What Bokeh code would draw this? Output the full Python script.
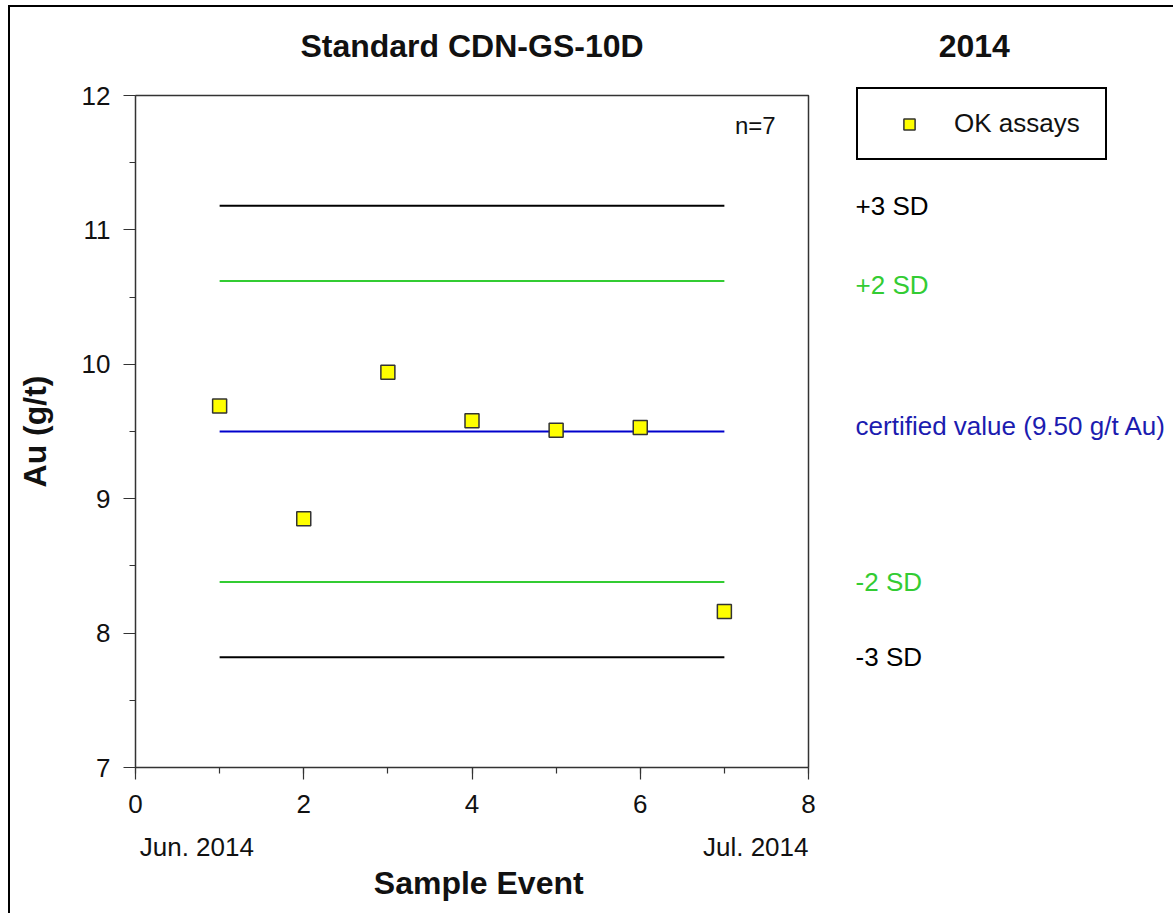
import math
from bokeh.plotting import figure
from bokeh.models import (Label, Legend, LegendItem,
                          SingleIntervalTicker, Range1d)
from bokeh.embed import file_html
from bokeh.resources import INLINE

# ---------------- data ----------------
sample_event = [1, 2, 3, 4, 5, 6, 7]
au_gpt = [9.69, 8.85, 9.94, 9.58, 9.51, 9.53, 8.16]

limit_values = [11.18, 10.62, 9.50, 8.38, 7.82]
limit_labels = ["+3 SD", "+2 SD", "certified value (9.50 g/t Au)", "-2 SD", "-3 SD"]

period_labels = ["Jun. 2014", "Jul. 2014"]
title_text = "Standard CDN-GS-10D"
year_text = "2014"
count_text = "n=7"
legend_label = "OK assays"
x_title = "Sample Event"
y_title = "Au (g/t)"

# ---------------- layout / styles ----------------
limit_line_colors = ["#000000", "#33cc33", "#0000cc", "#33cc33", "#000000"]
limit_text_colors = ["#000000", "#33cc33", "#1c1cb0", "#33cc33", "#000000"]
limit_text_offsets = [0, -4, 6, 0, 0]
FONT = "Liberation Sans"
REG = "26px"
BOLD = "32px"
W, H = 1173, 913
FL, FR, FT, FB = 135, 808, 95, 767          # pixel box of the axes area
X0, X1, Y0, Y1 = 0, 8, 7, 12                 # axes extents
px_per_x = (FR - FL) / (X1 - X0)
px_per_y = (FB - FT) / (Y1 - Y0)
x_start = X0 - FL / px_per_x
x_end = X0 + (W - FL) / px_per_x
y_start = Y0 - (H - FB) / px_per_y
y_end = Y0 + FB / px_per_y

p = figure(width=W, height=H, x_range=Range1d(x_start, x_end),
           y_range=Range1d(y_start, y_end),
           output_backend="svg", toolbar_location=None, min_border=0)
p.background_fill_alpha = 0
p.border_fill_alpha = 0
p.outline_line_color = None
p.styles = {
    "background": "linear-gradient(#000, #000) 8px 5px / 2px 3000px no-repeat, "
                  "linear-gradient(#000, #000) 8px 5px / 3000px 2px no-repeat, #ffffff"
}
p.xgrid.visible = False
p.ygrid.visible = False

p.xaxis.ticker = SingleIntervalTicker(interval=2, num_minor_ticks=2)
p.yaxis.ticker = SingleIntervalTicker(interval=1, num_minor_ticks=2)
p.xaxis.bounds = (X0, X1)
p.yaxis.bounds = (Y0, Y1)
p.xaxis.fixed_location = Y0
p.yaxis.fixed_location = X0
for ax in (p.xaxis, p.yaxis):
    ax.axis_line_color = "#333333"
    ax.axis_line_width = 1.5
    ax.major_tick_line_color = "#333333"
    ax.minor_tick_line_color = "#333333"
    ax.major_tick_line_width = 1.2
    ax.minor_tick_line_width = 1.2
    ax.major_tick_in = 0
    ax.major_tick_out = 12
    ax.minor_tick_in = 0
    ax.minor_tick_out = 6
    ax.major_label_text_font = FONT
    ax.major_label_text_font_size = REG
    ax.major_label_text_color = "#111111"
p.xaxis.major_label_standoff = 15
p.yaxis.major_label_standoff = 13

# plot box (top and right edges)
p.line(x=[X0, X1, X1], y=[Y1, Y1, Y0], line_color="#333333", line_width=1.5)

# control limit lines
x_span = [sample_event[0], sample_event[-1]]
for v, c in zip(limit_values, limit_line_colors):
    p.line(x=x_span, y=[v, v], line_color=c, line_width=2)

# assays
r = p.scatter(sample_event, au_gpt, marker="square", size=14,
              fill_color="#ffff00", line_color="#333333", line_width=1.5)

legend = Legend(items=[LegendItem(label=legend_label, renderers=[r])],
                location=(FL + 721, H - 160), orientation="vertical",
                border_line_color="#000000", border_line_width=2,
                border_line_alpha=1,
                background_fill_color="white", background_fill_alpha=1,
                padding=19, margin=0, spacing=0,
                glyph_width=64, glyph_height=28, label_standoff=13,
                label_width=132, label_height=28,
                label_text_font=FONT, label_text_font_size=REG,
                label_text_color="#111111")
p.add_layout(legend)

# limit labels on the right
for v, t, c, off in zip(limit_values, limit_labels, limit_text_colors, limit_text_offsets):
    p.add_layout(Label(x=8.56, y=v, text=t, text_font=FONT, text_font_size=REG,
                       text_color=c, text_baseline="middle", text_align="left",
                       y_offset=off))

# titles
p.add_layout(Label(x=4, y=12.372, text=title_text, text_font=FONT,
                   text_font_size=BOLD, text_font_style="bold",
                   text_color="#111111", text_align="center",
                   text_baseline="alphabetic"))
p.add_layout(Label(x=9.97, y=12.372, text=year_text, text_font=FONT,
                   text_font_size=BOLD, text_font_style="bold",
                   text_color="#111111", text_align="center",
                   text_baseline="alphabetic"))
p.add_layout(Label(x=7.61, y=11.775, text=count_text, text_font=FONT,
                   text_font_size="24px", text_color="#111111",
                   text_align="right", text_baseline="middle"))

# axis titles
p.add_layout(Label(x=4.08, y=6.144, text=x_title, text_font=FONT,
                   text_font_size=BOLD, text_font_style="bold",
                   text_color="#111111", text_align="center",
                   text_baseline="middle"))
p.add_layout(Label(x=-1.2, y=9.5, text=y_title, text_font=FONT,
                   text_font_size=BOLD, text_font_style="bold",
                   text_color="#111111", text_align="center",
                   text_baseline="middle", angle=math.pi / 2))

# period labels under the x axis
p.add_layout(Label(x=0.05, y=6.41, text=period_labels[0], text_font=FONT,
                   text_font_size=REG, text_color="#111111",
                   text_align="left", text_baseline="middle"))
p.add_layout(Label(x=8, y=6.41, text=period_labels[1], text_font=FONT,
                   text_font_size=REG, text_color="#111111",
                   text_align="right", text_baseline="middle"))

open("out.html", "w").write(file_html(p, INLINE))
